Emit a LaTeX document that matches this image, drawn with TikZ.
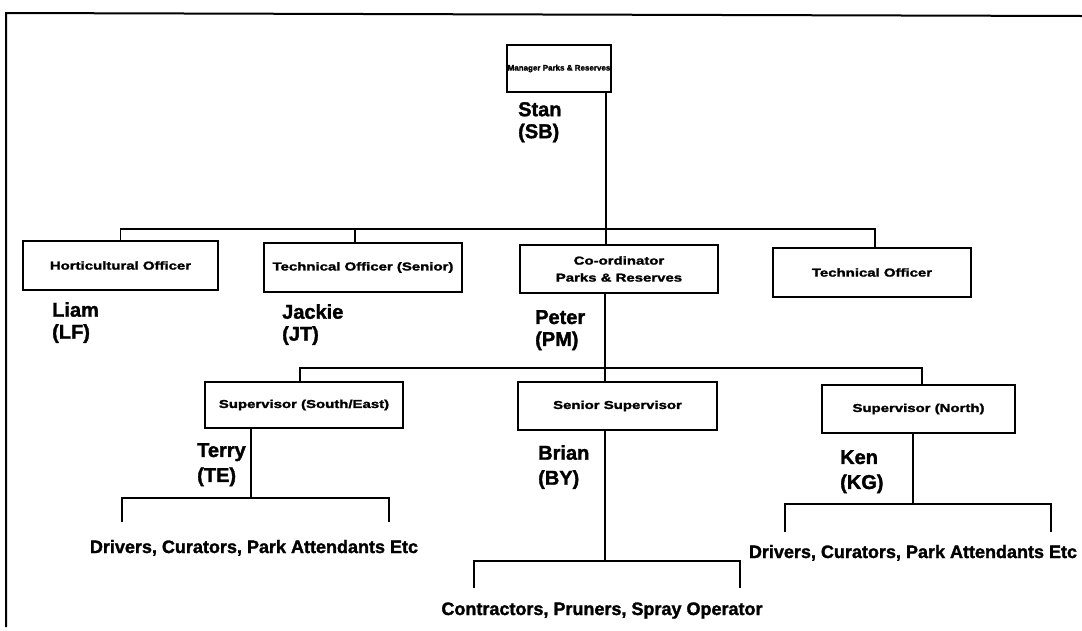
\documentclass[tikz,border=0pt]{standalone}
\usepackage{fontspec}
\setmainfont{Liberation Sans}[BoldFeatures={FakeBold=1.6}]
\usepackage{graphicx}
% box captions are set wide
\newcommand\wide[1]{\scalebox{1.3}[1]{#1}}
\begin{document}
\begin{tikzpicture}[x=1pt,y=-1pt,
  frame/.style={line width=2pt},
  link/.style={line width=1.5pt},
  post/.style={draw, line width=1.6pt, inner sep=0pt, align=center,
    font=\bfseries\fontsize{11.5}{17}\selectfont},
  who/.style={anchor=north west, inner sep=0pt, align=left,
    font=\bfseries\fontsize{20}{22}\selectfont},
  wholow/.style={who, font=\bfseries\fontsize{20}{25}\selectfont},
  crew/.style={anchor=base, inner sep=0pt,
    font=\bfseries\fontsize{18}{20}\selectfont}]
\useasboundingbox (0,0) rectangle (1082,630);

% page frame
\draw[frame] (6,627) -- (6,13) -- (1082,16);

% positions
\node[post, minimum width=104pt, minimum height=47pt,
  font=\bfseries\fontsize{8}{9}\selectfont] (mgr) at (559,68.5) {Manager Parks \& Reserves};
\node[post, minimum width=195pt, minimum height=49pt] (horti) at (120.5,265.5) {\wide{Horticultural Officer}};
\node[post, minimum width=198pt, minimum height=49pt] (techsr) at (363,267.5) {\wide{Technical Officer (Senior)}};
\node[post, minimum width=198pt, minimum height=48pt] (coord) at (619,269) {\wide{Co-ordinator}\\\wide{Parks \& Reserves}};
\node[post, minimum width=198pt, minimum height=49pt] (tech) at (872,272.5) {\wide{Technical Officer}};
\node[post, minimum width=198pt, minimum height=46pt] (se) at (304,405) {\wide{Supervisor (South/East)}};
\node[post, minimum width=199pt, minimum height=48pt] (sensup) at (617.5,406) {\wide{Senior Supervisor}};
\node[post, minimum width=193pt, minimum height=48pt] (north) at (918.5,409) {\wide{Supervisor (North)}};

% people
\node[who] (stan) at (518,102) {Stan\\(SB)};
\node[who] (liam) at (52,302) {Liam\\(LF)};
\node[who] (jackie) at (282,304) {Jackie\\(JT)};
\node[who] (peter) at (535,310) {Peter\\(PM)};
\node[wholow] (terry) at (197,443) {Terry\\(TE)};
\node[wholow] (brian) at (538,445) {Brian\\(BY)};
\node[wholow] (ken) at (840,450) {Ken\\(KG)};

% field staff
\node[crew] (crewse) at (254,553) {Drivers, Curators, Park Attendants Etc};
\node[crew] (crewsen) at (602,615) {Contractors, Pruners, Spray Operator};
\node[crew] (crewn) at (913,558) {Drivers, Curators, Park Attendants Etc};

% upper level
\coordinate (spine) at (606,229);
\coordinate (t1) at (120.5,229);
\coordinate (t2) at (355,229);
\coordinate (t4) at (875,229);
\draw[link] (mgr.south -| spine) -- (coord.north -| spine);
\draw[link] (horti.north) -- (t1) -- (t4) -- (t4 |- tech.north);
\draw[link] (t2) -- (t2 |- techsr.north);

% supervisors
\coordinate (s1) at (300,368);
\coordinate (s3) at (922,368);
\coordinate (spine2) at (605,368);
\draw[link] (coord.south -| spine2) -- (sensup.north -| spine2);
\draw[link] (s1 |- se.north) -- (s1) -- (s3) -- (s3 |- north.north);

% south/east crews
\coordinate (tt) at (251,498);
\coordinate (tl) at (122,522);
\coordinate (tr) at (389,498);
\coordinate (tre) at (389,522);
\draw[link] (se.south -| tt) -- (tt);
\draw[link] (tl) |- (tr) -- (tre);

% senior supervisor crews
\coordinate (bb) at (605,561);
\coordinate (bl) at (474,588);
\coordinate (br) at (740,561);
\coordinate (bre) at (740,588);
\draw[link] (sensup.south -| bb) -- (bb);
\draw[link] (bl) |- (br) -- (bre);

% north crews
\coordinate (kk) at (913,504);
\coordinate (kl) at (785,532);
\coordinate (kr) at (1051,504);
\coordinate (kre) at (1051,532);
\draw[link] (north.south -| kk) -- (kk);
\draw[link] (kl) |- (kr) -- (kre);
\end{tikzpicture}
\end{document}
